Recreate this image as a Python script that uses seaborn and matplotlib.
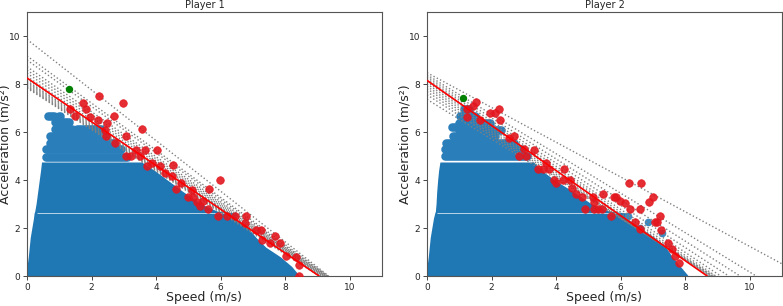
import matplotlib
matplotlib.use("Agg")
import matplotlib.pyplot as plt
import seaborn as sns
import pandas as pd

# ---------- Player 1 ----------
# dense body of the blue cloud: acceleration level, left and right speed edge
body_acc_1 = [0.0, 0.4, 0.8, 1.2, 1.6, 2.0, 2.4, 2.62, 2.7, 3.0, 3.5, 4.0, 4.4, 4.75]
body_lo_1 = [0.0, 0.0, 0.04, 0.07, 0.1, 0.15, 0.2, 0.22, 0.24, 0.28, 0.33, 0.38, 0.42, 0.45]
body_hi_1 = [8.45, 8.2, 7.85, 7.4, 7.1, 6.85, 6.45, 6.5, 5.9, 5.4, 4.85, 4.35, 3.95, 3.55]
# upper rows of blue points: level, from, to
row_acc_1 = [6.95, 6.67, 6.67, 6.4, 6.4, 6.12, 6.12, 5.83, 5.56, 5.28, 4.97]
row_lo_1 = [1.08, 0.65, 1.0, 0.88, 1.2, 0.88, 1.55, 0.71, 0.71, 0.58, 0.58]
row_hi_1 = [1.08, 0.85, 1.02, 1.15, 1.3, 1.4, 2.3, 2.45, 2.7, 2.9, 3.1]
red_v_1 = [2.24, 2.96, 1.73, 1.32, 1.84, 2.71, 1.5, 1.96, 2.2, 2.48, 3.56, 2.42, 3.06,
           2.44, 2.74, 3.39, 3.65, 4.03, 3.06, 3.22, 3.49, 3.87, 3.72, 4.13, 4.52, 4.27,
           4.5, 4.78, 4.62, 5.97, 5.63, 5.11, 4.99, 5.14, 5.27, 5.45, 5.35, 5.6, 5.91,
           6.2, 6.45, 6.79, 6.77, 7.11, 7.25, 7.28, 7.54, 7.68, 7.85, 8.04, 8.32, 8.42, 8.42]
red_a_1 = [7.49, 7.21, 7.21, 6.95, 6.95, 6.66, 6.66, 6.64, 6.48, 6.37, 6.12, 6.1, 5.83,
           5.83, 5.56, 5.27, 5.23, 5.23, 5.01, 5.01, 5.01, 4.7, 4.59, 4.59, 4.62, 4.3,
           4.15, 3.87, 3.62, 4.01, 3.62, 3.59, 3.31, 3.31, 3.08, 3.11, 2.9, 2.79, 2.5,
           2.5, 2.48, 2.5, 2.21, 1.93, 1.93, 1.51, 1.37, 1.68, 1.37, 0.82, 0.79, 0.47, 0.01]
green_1 = (1.29, 7.78)
fit_1 = (8.25, 9.05)  # (acc at speed 0, speed at acc 0)
dot_a0_1 = [9.86, 9.17, 9.0, 8.72, 8.58, 8.45, 8.31, 8.2, 8.13, 8.07, 8.02, 7.97, 7.92, 7.87, 7.83]
dot_v0_1 = [9.35, 9.33, 9.3, 9.3, 9.28, 9.25, 9.25, 9.22, 9.2, 9.18, 9.15, 9.12, 9.1, 9.08, 9.05]

# ---------- Player 2 ----------
body_acc_2 = [0.0, 0.4, 0.8, 1.2, 1.6, 2.0, 2.4, 2.62, 2.7, 3.0, 3.5, 4.0, 4.4, 4.75]
body_lo_2 = [0.0, 0.0, 0.04, 0.07, 0.1, 0.15, 0.2, 0.24, 0.26, 0.28, 0.3, 0.33, 0.36, 0.4]
body_hi_2 = [8.1, 7.85, 7.6, 7.4, 7.05, 6.6, 6.2, 6.25, 5.65, 5.1, 4.55, 3.95, 3.55, 3.3]
row_acc_2 = [7.2, 6.95, 6.67, 6.39, 6.39, 6.2, 6.1, 5.83, 5.56, 5.28, 5.0]
row_lo_2 = [1.19, 1.16, 1.03, 1.0, 1.75, 0.78, 1.0, 0.82, 0.6, 0.55, 0.55]
row_hi_2 = [1.19, 1.3, 1.5, 1.6, 1.95, 1.3, 2.3, 2.1, 2.7, 2.9, 3.1]
blue_v_2 = [6.86, 6.23, 7.28, 6.6]
blue_a_2 = [2.23, 2.51, 1.79, 2.0]
red_v_2 = [1.53, 1.43, 1.24, 1.24, 1.64, 1.94, 2.1, 2.23, 2.27, 2.69, 2.55, 3.0, 3.31,
           2.84, 3.08, 3.43, 3.6, 3.79, 3.68, 4.24, 3.93, 4.01, 4.21, 4.42, 4.49, 4.62,
           4.8, 4.91, 5.17, 5.14, 5.17, 5.45, 5.29, 5.41, 5.71, 5.8, 5.87, 5.99, 6.12,
           6.25, 6.64, 6.3, 6.59, 6.87, 6.99, 6.44, 6.61, 7.08, 7.13, 7.23, 7.26, 7.46,
           7.59, 7.67, 7.8]
red_a_2 = [7.23, 7.09, 6.95, 6.64, 6.48, 6.78, 6.78, 6.95, 6.48, 5.84, 5.74, 5.28, 5.23,
           5.01, 4.98, 4.45, 4.45, 4.45, 4.7, 4.45, 4.01, 3.87, 4.01, 4.01, 3.66, 3.41,
           3.31, 2.79, 2.79, 3.31, 3.07, 3.41, 2.79, 2.79, 2.51, 3.31, 3.31, 3.11, 3.04,
           3.87, 3.87, 2.79, 2.79, 3.07, 3.31, 2.23, 1.96, 2.23, 2.23, 2.48, 1.93, 1.37,
           1.12, 0.85, 0.54]
green_2 = (1.10, 7.41)
fit_2 = (8.15, 8.68)
dot_a0_2 = [8.47, 8.38, 8.3, 8.22, 8.15, 8.08, 8.0, 7.9, 7.8, 7.68, 7.55, 7.36]
dot_v0_2 = [11.7, 10.2, 9.7, 9.35, 9.1, 8.95, 8.85, 8.8, 8.75, 8.75, 8.8, 8.9]

gap_acc = [2.62]
ticks = [0, 2, 4, 6, 8, 10]

sns.set_style("ticks")
plt.rcParams["font.family"] = ["DejaVu Sans"]

fig = plt.figure(figsize=(7.83, 3.06), dpi=100)
ax1 = fig.add_axes([27 / 783, 30 / 306, 355 / 783, 264 / 306])
ax2 = fig.add_axes([427 / 783, 30 / 306, 355 / 783, 264 / 306])

blue = "#1f77b4"
red = "#e3161e"


def panel(ax, title, body_acc, body_lo, body_hi, row_acc, row_lo, row_hi,
          red_v, red_a, green, fit, dot_a0, dot_v0, extra_v=None, extra_a=None):
    ax.fill_betweenx(body_acc, body_lo, body_hi, color=blue, lw=0, zorder=1)
    ax.hlines(gap_acc, 0.3, body_hi[7] - 0.3, color="white", lw=0.6, alpha=0.8, zorder=1.5)
    for a, lo, hi in zip(row_acc, row_lo, row_hi):
        ax.plot([lo, hi], [a, a], color="#2a7fbb", lw=6.2, solid_capstyle="round", zorder=1.2)
    if extra_v is not None:
        ax.scatter(extra_v, extra_a, s=30, color="#3a8ac2", zorder=1.3, lw=0)
    for a0, v0 in zip(dot_a0, dot_v0):
        ax.plot([0, v0], [a0, 0], color="gray", ls=":", lw=1.0, zorder=2)
    pts = pd.DataFrame({"v": red_v, "a": red_a})
    sns.scatterplot(data=pts, x="v", y="a", ax=ax, color=red, s=30, alpha=0.9,
                    edgecolor=red, linewidth=0.5, zorder=3)
    ax.scatter([green[0]], [green[1]], s=28, color="green", zorder=4, lw=0)
    sns.lineplot(x=[0, fit[1]], y=[fit[0], 0], ax=ax, color="red", lw=1.2, zorder=5)
    ax.set_xlim(0, 11)
    ax.set_ylim(0, 11)
    ax.set_xticks(ticks)
    ax.set_yticks(ticks)
    ax.tick_params(labelsize=6.5, length=3, width=0.6, pad=2)
    for s in ax.spines.values():
        s.set_color("#555555")
        s.set_linewidth(0.8)
    ax.set_xlabel("Speed (m/s)", fontsize=9)
    ax.set_ylabel("Acceleration (m/s²)", fontsize=9)
    ax.xaxis.set_label_coords(0.5, -0.058)
    ax.yaxis.set_label_coords(-0.043, 0.5)
    ax.set_title(title, fontsize=7, pad=3)


panel(ax1, "Player 1", body_acc_1, body_lo_1, body_hi_1, row_acc_1, row_lo_1, row_hi_1,
      red_v_1, red_a_1, green_1, fit_1, dot_a0_1, dot_v0_1)
panel(ax2, "Player 2", body_acc_2, body_lo_2, body_hi_2, row_acc_2, row_lo_2, row_hi_2,
      red_v_2, red_a_2, green_2, fit_2, dot_a0_2, dot_v0_2, blue_v_2, blue_a_2)

fig.savefig("out.png", dpi=100)
